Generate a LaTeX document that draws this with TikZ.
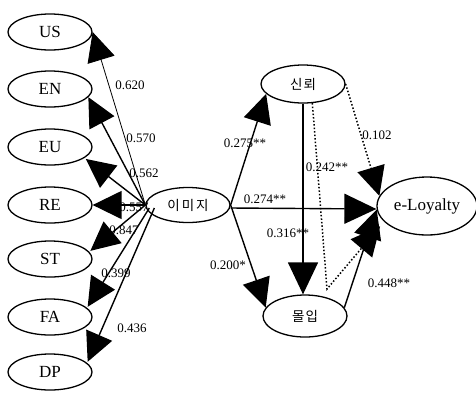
\documentclass[tikz,border=0pt]{standalone}
\usepackage{fontspec}
\setmainfont{Liberation Serif}
\newfontfamily\krfont{Noto Sans CJK KR}
\usetikzlibrary{arrows.meta,calc,shapes.geometric}

\begin{document}
\begin{tikzpicture}[x=1pt,y=-1pt,
  latent/.style={draw,line width=1.3pt,ellipse,inner sep=0pt,
    minimum width=84pt,minimum height=36pt,
    font=\fontsize{17}{17}\selectfont},
  korean/.style={font=\krfont\fontsize{13.5}{14}\selectfont},
  coef/.style={inner sep=0pt,font=\fontsize{13}{13}\selectfont},
  path/.style={line width=1.4pt,-{Triangle[length=29pt,width=28pt]}},
  thinpath/.style={line width=0.8pt,-{Triangle[length=29pt,width=28pt]}},
  bigpath/.style={line width=1.4pt,-{Triangle[length=32pt,width=30pt]}},
  indirect/.style={line width=1.5pt,dash pattern=on 1.5pt off 2pt,
    -{Triangle[length=29pt,width=28pt]}}]

\useasboundingbox (0,0) rectangle (476,392);
\fill[white] (0,0) rectangle (476,392);

% measured variables of the image construct
\node[latent] (US) at (50,32)  {US};
\node[latent] (EN) at (50,89)  {EN};
\node[latent] (EU) at (50,147) {EU};
\node[latent] (RE) at (50,205) {RE};
\node[latent] (ST) at (50,259) {ST};
\node[latent] (FA) at (50,317) {FA};
\node[latent] (DP) at (50,372) {DP};

% structural part
\node[latent,korean,minimum height=35pt] (img) at (188,205) {이\hspace{2pt}미\hspace{2pt}지};
\node[latent,korean,minimum height=38pt] (trust) at (303,84) {신\hspace{1pt}뢰};
\node[latent,korean,minimum height=42pt] (commit) at (305,316) {몰\hspace{1pt}입};
\node[latent,minimum width=100pt,minimum height=58pt] (loyal) at (427,206) {e-Loyalty};

% loadings
\node[coef] at (130,85)  {0.620};
\node[coef] at (141,138) {0.570};
\node[coef] at (144,173) {0.562};
\node[coef] at (134,207) {0.557};
\node[coef] at (124,230) {0.847};
\node[coef] at (116,273) {0.399};
\node[coef] at (132,328) {0.436};

% path coefficients
\node[coef] at (245,143) {0.275**};
\node[coef] at (265,199) {0.274**};
\node[coef] at (228,265) {0.200*};
\node[coef] at (288,233) {0.316**};
\node[coef] at (327,167) {0.242**};
\node[coef] at (377,135) {0.102};
\node[coef] at (389,283) {0.448**};

% loading arrows
\draw[thinpath] (img.west) -- (US.east);
\draw[path] (img.west) -- (EN.-12);
\draw[path] (img.west) -- ([xshift=3pt]EU.-20);
\draw[path] (img.west) -- (RE.east);
\draw[path] (img.west) -- ([xshift=2pt]ST.12);
\draw[path] ([shift={(4,3)}]img.west) -- ([xshift=2pt]FA.16);
\draw[path] ([shift={(9,3)}]img.west) -- ([xshift=2pt]DP.16);

% structural arrows
\draw[path] (img.east) -- (trust.195);
\draw[bigpath] ([yshift=-3pt]img.east) -- ([yshift=-3pt]loyal.west);
\draw[path] (img.east) -- (commit.168);
\draw[bigpath] (trust.south) -- (trust.south |- commit.north);
\draw[path] (commit.12) -- (loyal.184);

% insignificant / indirect paths
\draw[indirect] (trust.east) -- (loyal.168);
\coordinate (turn) at (327,289);
\draw[indirect,shorten >=6pt] (trust.-64) -- (turn) -- (loyal.200);

\end{tikzpicture}
\end{document}
